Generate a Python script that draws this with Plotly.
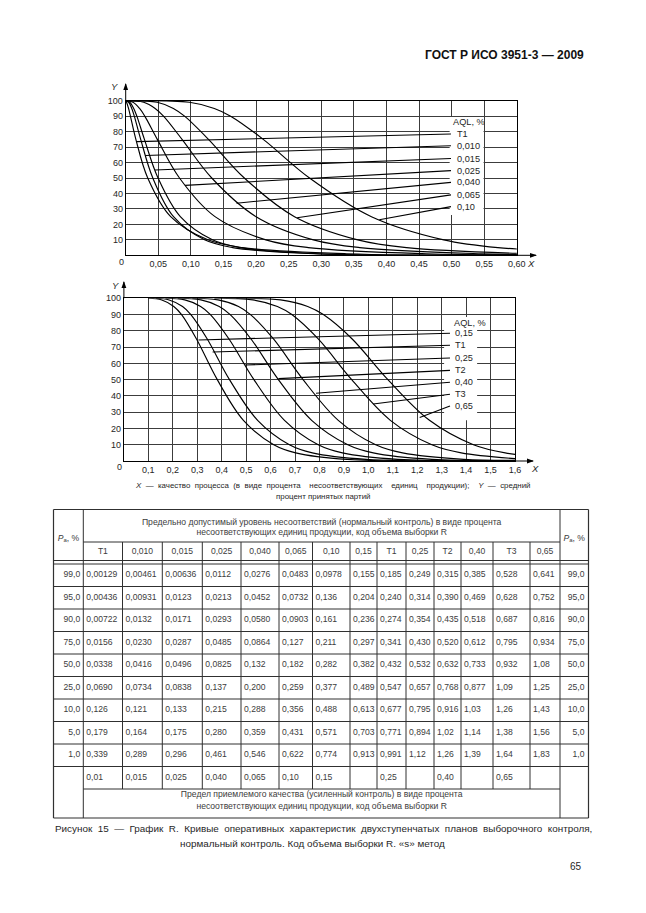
import plotly.graph_objects as go

# The page shows the figure with the browser's 8 px body margin, so the figure is
# made 8 px smaller and every page position below is given in page pixels.
PAGE_W, PAGE_H = 646, 913
OFF = 8
W, H = PAGE_W - OFF, PAGE_H - OFF
FONT = "Liberation Sans"
TXT = "#262626"

# ---------------- data ----------------
PA_LEVELS = ["99,0", "95,0", "90,0", "75,0", "50,0", "25,0", "10,0", "5,0", "1,0"]
TABLE_HEADS = ["T1", "0,010", "0,015", "0,025", "0,040", "0,065", "0,10",
               "0,15", "T1", "0,25", "T2", "0,40", "T3", "0,65"]
col_T1a = ["0,00129", "0,00436", "0,00722", "0,0156", "0,0338", "0,0690", "0,126", "0,179", "0,339"]
col_0010 = ["0,00461", "0,00931", "0,0132", "0,0230", "0,0416", "0,0734", "0,121", "0,164", "0,289"]
col_0015 = ["0,00636", "0,0123", "0,0171", "0,0287", "0,0496", "0,0838", "0,133", "0,175", "0,296"]
col_0025 = ["0,0112", "0,0213", "0,0293", "0,0485", "0,0825", "0,137", "0,215", "0,280", "0,461"]
col_0040 = ["0,0276", "0,0452", "0,0580", "0,0864", "0,132", "0,200", "0,288", "0,359", "0,546"]
col_0065 = ["0,0483", "0,0732", "0,0903", "0,127", "0,182", "0,259", "0,356", "0,431", "0,622"]
col_010 = ["0,0978", "0,136", "0,161", "0,211", "0,282", "0,377", "0,488", "0,571", "0,774"]
col_015 = ["0,155", "0,204", "0,236", "0,297", "0,382", "0,489", "0,613", "0,703", "0,913"]
col_T1b = ["0,185", "0,240", "0,274", "0,341", "0,432", "0,547", "0,677", "0,771", "0,991"]
col_025 = ["0,249", "0,314", "0,354", "0,430", "0,532", "0,657", "0,795", "0,894", "1,12"]
col_T2 = ["0,315", "0,390", "0,435", "0,520", "0,632", "0,768", "0,916", "1,02", "1,26"]
col_040 = ["0,385", "0,469", "0,518", "0,612", "0,733", "0,877", "1,03", "1,14", "1,39"]
col_T3 = ["0,528", "0,628", "0,687", "0,795", "0,932", "1,09", "1,26", "1,38", "1,64"]
col_065 = ["0,641", "0,752", "0,816", "0,934", "1,08", "1,25", "1,43", "1,56", "1,83"]
TABLE_COLS = [col_T1a, col_0010, col_0015, col_0025, col_0040, col_0065, col_010,
              col_015, col_T1b, col_025, col_T2, col_040, col_T3, col_065]
AQL_TIGHTENED = ["0,01", "0,015", "0,025", "0,040", "0,065", "0,10", "0,15",
                 "", "0,25", "", "0,40", "", "0,65", ""]

# curve ends (start at 100 %, tail value at the right edge)
CHART1_START_X = [0.0, 0.0, 0.0, 0.0, 0.0, 0.0, 0.0]
CHART1_TAIL_X = [0.60, 0.60, 0.60, 0.60, 0.60, None, None]
CHART1_TAIL_Y = [0.1, 0.1, 0.1, 0.3, 0.6, None, None]
CHART2_START_X = [0.10, 0.13, 0.17, 0.22, 0.28, 0.37, 0.46]
CHART2_TAIL_X = [1.60, 1.60, 1.60, 1.60, 1.60, None, None]
CHART2_TAIL_Y = [0.1, 0.15, 0.3, 0.3, 0.4, None, None]

# legend labels and leader-line targets
CHART1_LABELS = ["T1", "0,010", "0,015", "0,025", "0,040", "0,065", "0,10"]
CHART1_LABEL_Y = [78.5, 70.9, 62.6, 54.8, 47.2, 39.1, 31.5]
CHART1_PT_X = [0.017, 0.030, 0.045, 0.091, 0.170, 0.263, 0.389]
CHART1_PT_Y = [73.5, 64.6, 55.2, 45.2, 33.7, 24.3, 23.0]
CHART2_LABELS = ["0,15", "T1", "0,25", "T2", "0,40", "T3", "0,65"]
CHART2_LABEL_Y = [78.5, 71.1, 63.3, 55.7, 48.4, 41.0, 33.8]
CHART2_PT_X = [0.305, 0.363, 0.496, 0.632, 0.786, 1.02, 1.21]
CHART2_PT_Y = [74.4, 67.0, 59.0, 50.6, 41.6, 35.0, 26.8]

X1_TICKS = [0.05, 0.10, 0.15, 0.20, 0.25, 0.30, 0.35, 0.40, 0.45, 0.50, 0.55, 0.60]
X2_TICKS = [0.1, 0.2, 0.3, 0.4, 0.5, 0.6, 0.7, 0.8, 0.9, 1.0, 1.1, 1.2, 1.3, 1.4, 1.5, 1.6]
Y_TICKS = [10, 20, 30, 40, 50, 60, 70, 80, 90, 100]


def num(s):
    return float(s.replace(",", "."))


PA = [num(s) for s in PA_LEVELS]


def fx(p):
    return (p - OFF) / W


def fy(p):
    return 1 - (p - OFF) / H


# plot boxes in page pixels: (x_left, x_right, y_top, y_bottom)
BOX1 = (125.7, 516.8, 100.7, 255.3)
BOX2 = (123.9, 515.0, 298.3, 461.0)

fig = go.Figure()
line_style = dict(color="black", width=1.15, shape="spline", smoothing=1.0)

for i in range(7):
    xs = [CHART1_START_X[i]] + [num(v) for v in TABLE_COLS[i]]
    ys = [100.0] + PA
    if CHART1_TAIL_X[i] is not None:
        xs.append(CHART1_TAIL_X[i]); ys.append(CHART1_TAIL_Y[i])
    fig.add_trace(go.Scatter(x=xs, y=ys, mode="lines", line=line_style,
                             xaxis="x", yaxis="y", hoverinfo="skip", showlegend=False))

for i in range(7):
    xs = [CHART2_START_X[i]] + [num(v) for v in TABLE_COLS[7 + i]]
    ys = [100.0] + PA
    if CHART2_TAIL_X[i] is not None:
        xs.append(CHART2_TAIL_X[i]); ys.append(CHART2_TAIL_Y[i])
    fig.add_trace(go.Scatter(x=xs, y=ys, mode="lines", line=line_style,
                             xaxis="x2", yaxis="y2", hoverinfo="skip", showlegend=False))

shapes = []
annotations = []


def legend(xref, yref, box, labels, label_y, pt_x, pt_y, line_end_x, label_x, head_xy):
    shapes.append(dict(type="rect", xref=xref, yref=yref, x0=box[0], x1=box[1], y0=box[2], y1=box[3],
                       fillcolor="white", line=dict(width=0), layer="above"))
    for lab, ly, px_, py_ in zip(labels, label_y, pt_x, pt_y):
        shapes.append(dict(type="line", xref=xref, yref=yref, x0=px_, y0=py_, x1=line_end_x, y1=ly,
                           line=dict(color="black", width=1.1), layer="above"))
        annotations.append(dict(xref=xref, yref=yref, x=label_x, y=ly, text=lab, showarrow=False,
                                xanchor="left", yanchor="middle",
                                font=dict(family=FONT, size=9.2, color=TXT)))
    annotations.append(dict(xref=xref, yref=yref, x=head_xy[0], y=head_xy[1], text="AQL, %",
                            showarrow=False, xanchor="left", yanchor="middle",
                            font=dict(family=FONT, size=9.2, color=TXT)))


legend("x", "y", (0.497, 0.549, 26, 89.5), CHART1_LABELS, CHART1_LABEL_Y, CHART1_PT_X, CHART1_PT_Y,
       0.499, 0.505, (0.499, 86.3))
legend("x2", "y2", (1.31, 1.445, 25, 88.5), CHART2_LABELS, CHART2_LABEL_Y, CHART2_PT_X, CHART2_PT_Y,
       1.334, 1.345, (1.341, 84.6))


# page-pixel decorations (axis x3/y3 spans the whole page in pixels)
def pline(x0, y0, x1, y1, w=1.0, color="#303030"):
    shapes.append(dict(type="line", xref="x3", yref="y3", x0=x0, y0=y0, x1=x1, y1=y1,
                       line=dict(color=color, width=w), layer="above"))


def ptext(x, y, s, size, anchor="center", color=TXT, yanchor="middle"):
    annotations.append(dict(xref="x3", yref="y3", x=x, y=y, text=s, showarrow=False,
                            xanchor=anchor, yanchor=yanchor,
                            font=dict(family=FONT, size=size, color=color)))


def axis_arrows(box, xtip, ytip, xlab, ylab, zero):
    x0, y0 = box[0], box[3]
    pline(box[1], y0, xtip, y0, 1, "black")
    pline(x0, box[2], x0, ytip, 1, "black")
    shapes.append(dict(type="path", xref="x3", yref="y3",
                       path=f"M{xtip + 1},{y0} L{xtip - 6},{y0 - 2.4} L{xtip - 6},{y0 + 2.4} Z",
                       fillcolor="black", line=dict(width=0), layer="above"))
    shapes.append(dict(type="path", xref="x3", yref="y3",
                       path=f"M{x0},{ytip - 1} L{x0 - 2.4},{ytip + 6} L{x0 + 2.4},{ytip + 6} Z",
                       fillcolor="black", line=dict(width=0), layer="above"))
    ptext(xlab[0], xlab[1], "<i>X</i>", 9.5)
    ptext(ylab[0], ylab[1], "<i>Y</i>", 9.5)
    ptext(zero[0], zero[1], "0", 9)


axis_arrows(BOX1, 536.0, 84.0, (531.0, 263.0), (114.5, 86.5), (121.0, 262.0))
axis_arrows(BOX2, 533.0, 282.0, (534.5, 468.5), (115.5, 285.5), (119.5, 467.0))

# ---------------- table ----------------
COL_X = [53.5, 83.3, 122.5, 162.3, 202.3, 241.0, 279.0, 312.5, 350.0, 377.0,
         406.0, 434.0, 461.0, 493.0, 530.0, 560.0, 588.5]
T_TOP, HDR_LINE, COLHDR_BOTTOM, DATA_TOP, ROW_H, BOTTOM = 509.5, 542.0, 560.5, 564.0, 22.5, 818.0
n_rows = len(PA_LEVELS)
AQL_TOP = DATA_TOP + n_rows * ROW_H
AQL_BOTTOM = AQL_TOP + ROW_H

left, right = COL_X[0], COL_X[-1]
inner_l, inner_r = COL_X[1], COL_X[-2]
for y in [T_TOP, BOTTOM]:
    pline(left, y, right, y, 1.2)
pline(inner_l, HDR_LINE, inner_r, HDR_LINE)
pline(left, COLHDR_BOTTOM, right, COLHDR_BOTTOM)
pline(left, DATA_TOP, right, DATA_TOP)
for k in range(1, n_rows + 1):
    pline(left, DATA_TOP + k * ROW_H, right, DATA_TOP + k * ROW_H)
pline(inner_l, AQL_BOTTOM, inner_r, AQL_BOTTOM)
for x in [left, right]:
    pline(x, T_TOP, x, BOTTOM, 1.2)
for x in [inner_l, inner_r]:
    pline(x, T_TOP, x, BOTTOM)
for x in COL_X[2:-2]:
    pline(x, HDR_LINE, x, AQL_BOTTOM)

tx, ty, tt, tp = [], [], [], []
mid = (inner_l + inner_r) / 2
for s, y in [("Предельно допустимый уровень несоответствий (нормальный контроль) в виде процента", 522.5),
             ("несоответствующих единиц продукции, код объема выборки R", 532.5)]:
    tx.append(mid); ty.append(y); tt.append(s); tp.append("middle center")
for s, y in [("Предел приемлемого качества (усиленный контроль) в виде процента", 794.5),
             ("несоответствующих единиц продукции, код объема выборки R", 806.5)]:
    tx.append(mid); ty.append(y); tt.append(s); tp.append("middle center")
pa_head = "<i>P</i><sub>a</sub>, %"
for c0, c1 in [(COL_X[0], COL_X[1]), (COL_X[-2], COL_X[-1])]:
    tx.append((c0 + c1) / 2); ty.append(538.5); tt.append(pa_head); tp.append("middle center")
for c, head in enumerate(TABLE_HEADS):
    tx.append((COL_X[c + 1] + COL_X[c + 2]) / 2); ty.append(552.0)
    tt.append(head); tp.append("middle center")
for r, lev in enumerate(PA_LEVELS):
    yc = DATA_TOP + (r + 0.5) * ROW_H
    tx.append(COL_X[1] - 3); ty.append(yc); tt.append(lev); tp.append("middle left")
    tx.append(COL_X[-1] - 4); ty.append(yc); tt.append(lev); tp.append("middle left")
    for c, col in enumerate(TABLE_COLS):
        tx.append(COL_X[c + 1] + 3); ty.append(yc); tt.append(col[r]); tp.append("middle right")
for c, s in enumerate(AQL_TIGHTENED):
    if s:
        tx.append(COL_X[c + 1] + 3); ty.append(AQL_TOP + ROW_H / 2); tt.append(s); tp.append("middle right")

fig.add_trace(go.Scatter(x=tx, y=ty, text=tt, mode="text", textposition=tp,
                         textfont=dict(family=FONT, size=8.6, color="#3c3c3c"),
                         xaxis="x3", yaxis="y3", hoverinfo="skip", showlegend=False, cliponaxis=False))

# ---------------- page texts ----------------
nb = "\u00a0"


def spaced(words, gaps):
    out = words[0]
    for w, g in zip(words[1:], gaps):
        out += nb * g + w
    return out


ptext(586, 55, "<b>ГОСТ Р ИСО 3951-3 — 2009</b>", 12.0, "right", "#111111")
cap_words = ["<i>X</i>", "—", "качество", "процесса", "(в", "виде", "процента", "несоответствующих",
             "единиц", "продукции);", "<i>Y</i>", "—", "средний"]
cap_gaps = [2, 2, 2, 2, 2, 2, 4, 4, 4, 4, 2, 2]
ptext(332, 485, spaced(cap_words, cap_gaps), 7.9)
ptext(323, 496.5, "процент" + nb + "принятых" + nb + "партий", 7.9)
fig_words = ["Рисунок", "15", "—", "График", "R.", "Кривые", "оперативных", "характеристик",
             "двухступенчатых", "планов", "выборочного", "контроля,"]
ptext(323.5, 828.5, spaced(fig_words, [2] * 11), 9.9)
ptext(312, 843.5, "нормальный контроль. Код объема выборки R. «s» метод", 9.9)
ptext(584, 866, "65", 10, "right")

# ---------------- axes ----------------
tickfont = dict(family=FONT, size=9, color=TXT)
common = dict(showgrid=True, gridcolor="#3c3c3c", gridwidth=1, showline=True, linecolor="black",
              linewidth=1, mirror=True, ticks="", zeroline=False, tickfont=tickfont, fixedrange=True)

fig.update_layout(
    width=W, height=H, margin=dict(l=0, r=0, t=0, b=0),
    paper_bgcolor="white", plot_bgcolor="rgba(0,0,0,0)", template="none",
    showlegend=False,
    xaxis=dict(domain=[fx(BOX1[0]), fx(BOX1[1])], range=[0, 0.6], tickvals=X1_TICKS,
               ticktext=[f"{v:.2f}".replace(".", ",") for v in X1_TICKS], anchor="y", **common),
    yaxis=dict(domain=[fy(BOX1[3]), fy(BOX1[2])], range=[0, 100], tickvals=Y_TICKS,
               ticktext=[str(v) for v in Y_TICKS], anchor="x", **common),
    xaxis2=dict(domain=[fx(BOX2[0]), fx(BOX2[1])], range=[0, 1.6], tickvals=X2_TICKS,
                ticktext=[f"{v:.1f}".replace(".", ",") for v in X2_TICKS], anchor="y2", **common),
    yaxis2=dict(domain=[fy(BOX2[3]), fy(BOX2[2])], range=[0, 100], tickvals=Y_TICKS,
                ticktext=[str(v) for v in Y_TICKS], anchor="x2", **common),
    xaxis3=dict(domain=[0, 1], range=[OFF, PAGE_W], visible=False, fixedrange=True, anchor="y3"),
    yaxis3=dict(domain=[0, 1], range=[PAGE_H, OFF], visible=False, fixedrange=True, anchor="x3"),
    shapes=shapes, annotations=annotations,
)

fig.write_html("out.html")
